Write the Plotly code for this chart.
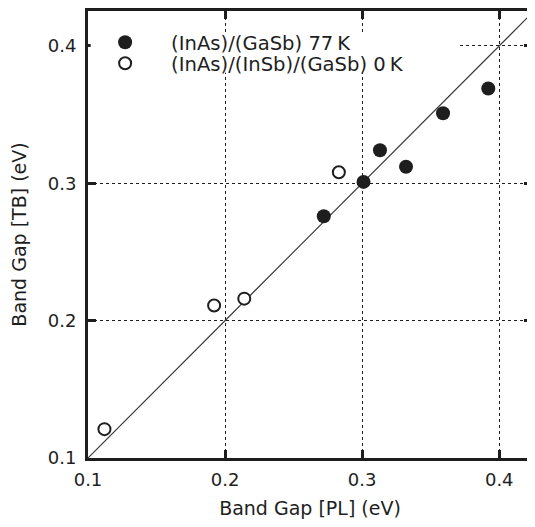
import plotly.graph_objects as go

# Data
pl_77k = [0.272, 0.301, 0.313, 0.332, 0.359, 0.392]
tb_77k = [0.276, 0.301, 0.324, 0.312, 0.351, 0.369]
pl_0k = [0.112, 0.192, 0.214, 0.283]
tb_0k = [0.121, 0.211, 0.216, 0.308]
diag = [0.1, 0.43]
ticks = [0.1, 0.2, 0.3, 0.4]
tick_text = ["0.1", "0.2", "0.3", "0.4"]
name_77k = "(InAs)/(GaSb) 77\u2009K"
name_0k = "(InAs)/(InSb)/(GaSb) 0\u2009K"

INK = "#1e1e1e"
FONT = "DejaVu Sans"

fig = go.Figure()
fig.add_trace(go.Scatter(x=diag, y=diag, mode="lines", line=dict(color="#333", width=1.1),
                         showlegend=False, hoverinfo="skip"))
fig.add_trace(go.Scatter(x=pl_77k, y=tb_77k, mode="markers", name=name_77k,
                         marker=dict(symbol="circle", size=14, color=INK, line=dict(width=0)),
                         legend="legend"))
fig.add_trace(go.Scatter(x=pl_0k, y=tb_0k, mode="markers", name=name_0k,
                         marker=dict(symbol="circle", size=12, color="white",
                                     line=dict(width=2, color=INK)),
                         legend="legend2"))

axis_common = dict(
    showline=True, linewidth=3, linecolor=INK, mirror="ticks",
    ticks="inside", ticklen=8, tickwidth=3, tickcolor=INK,
    tickvals=ticks, ticktext=tick_text,
    showgrid=True, gridcolor=INK, gridwidth=1, griddash="dot",
    zeroline=False,
    tickfont=dict(family=FONT, size=18, color=INK),
    title_font=dict(family=FONT, size=19, color=INK),
)

fig.update_layout(
    width=527, height=511,
    margin=dict(l=80, r=0, t=2, b=60),
    paper_bgcolor="white", plot_bgcolor="white",
    font=dict(family=FONT, color=INK),
    xaxis=dict(range=[0.1, 0.4239], title=dict(text="Band Gap [PL] (eV)", standoff=16),
               ticklabelstandoff=3, **axis_common),
    yaxis=dict(range=[0.1, 0.4254], title=dict(text="Band Gap [TB] (eV)", standoff=24),
               ticklabelstandoff=5, **axis_common),
    legend=dict(x=-0.020, y=0.9294, xanchor="left", yanchor="middle", bgcolor="rgba(0,0,0,0)",
                itemwidth=82, font=dict(family=FONT, size=19.6, color=INK)),
    legend2=dict(x=-0.020, y=0.8826, xanchor="left", yanchor="middle", bgcolor="rgba(0,0,0,0)",
                 itemwidth=82, font=dict(family=FONT, size=19.6, color=INK)),
    shapes=[dict(type="rect", xref="x domain", yref="y domain", x0=0.006, x1=0.832, y0=0.862, y1=0.951,
                 fillcolor="white", line=dict(width=0), layer="above")],
)

fig.write_html("out.html")
